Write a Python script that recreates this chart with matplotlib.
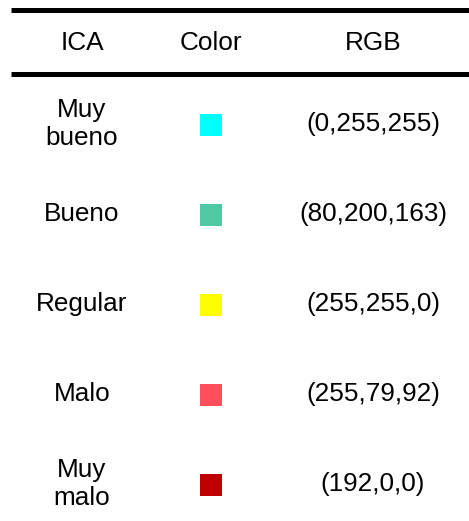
import matplotlib.pyplot as plt
from matplotlib.patches import Rectangle

headers = ["ICA", "Color", "RGB"]
categories = ["Muy\nbueno", "Bueno", "Regular", "Malo", "Muy\nmalo"]
rgb_values = [(0, 255, 255), (80, 200, 163), (255, 255, 0), (255, 79, 92), (192, 0, 0)]

plt.rcParams["font.family"] = ["Liberation Sans", "DejaVu Sans"]

W, H = 469, 521
fig = plt.figure(figsize=(W / 100, H / 100), dpi=100)
ax = fig.add_axes([0, 0, 1, 1])
ax.set_xlim(0, W)
ax.set_ylim(H, 0)
ax.axis("off")

col_x = [82, 211, 373]
header_y = 43
row_y0 = 124
row_step = 90
sq = 22
fs = 18.8

# rules
ax.plot([11, W], [9.5, 9.5], color="black", lw=3.6, solid_capstyle="butt")
ax.plot([11, W], [73.5, 73.5], color="black", lw=3.6, solid_capstyle="butt")

for x, h in zip(col_x, headers):
    ax.text(x, header_y, h, ha="center", va="center", fontsize=fs)

for i, (cat, rgb) in enumerate(zip(categories, rgb_values)):
    y = row_y0 + i * row_step
    ax.text(col_x[0], y, cat, ha="center", va="center", fontsize=fs,
            linespacing=1.2)
    color = tuple(v / 255 for v in rgb)
    ax.add_patch(Rectangle((col_x[1] - sq / 2, y - sq / 2 + 1), sq, sq,
                           facecolor=color, edgecolor="none"))
    ax.text(col_x[2], y, "(" + ",".join(str(v) for v in rgb) + ")",
            ha="center", va="center", fontsize=fs)

fig.savefig("out.png", dpi=100)
